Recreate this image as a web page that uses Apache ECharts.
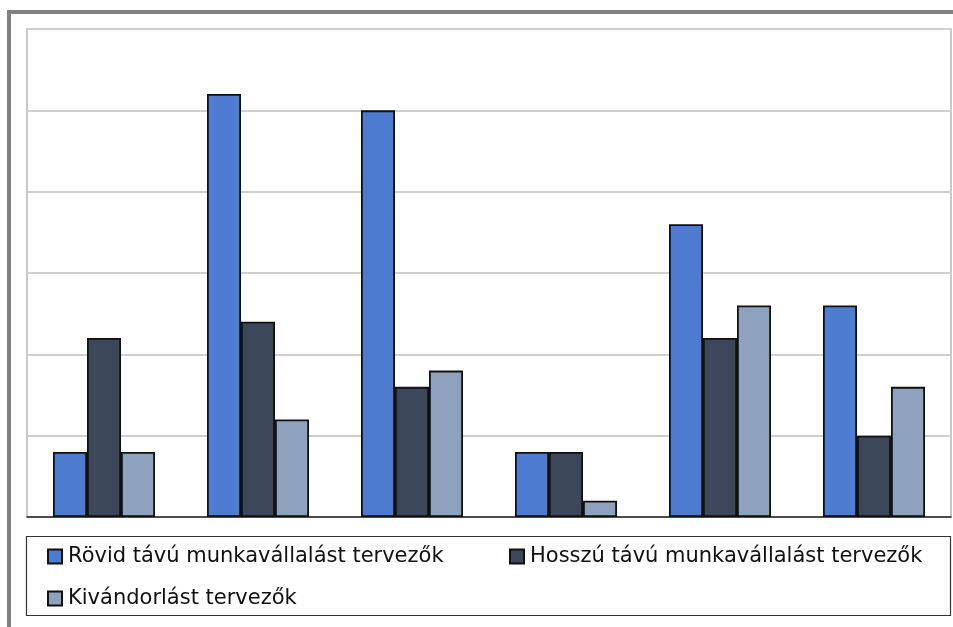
<!DOCTYPE html>
<html>
<head>
<meta charset="utf-8">
<script src="https://cdn.jsdelivr.net/npm/echarts@6/dist/echarts.min.js"></script>
<style>html,body{margin:0;padding:0;background:#fff}#c{width:953px;height:627px}</style>
</head>
<body>
<div id="c"></div>
<script>
const categories = ['1', '2', '3', '4', '5', '6'];
const seriesNames = ['Rövid távú munkavállalást tervezők', 'Hosszú távú munkavállalást tervezők', 'Kivándorlást tervezők'];
const rovid = [0.8, 5.2, 5.0, 0.8, 3.6, 2.6];
const hosszu = [2.2, 2.4, 1.6, 0.8, 2.2, 1.0];
const kivandorlas = [0.8, 1.2, 1.8, 0.2, 2.6, 1.6];
const colors = ['#4c7bcf', '#3c4759', '#8fa2bd'];

const chart = echarts.init(document.getElementById('c'), null, {renderer: 'canvas'});
const dataSets = [rovid, hosszu, kivandorlas];
const font = 'DejaVu Sans';
const legendPos = [{left: 47, top: 546}, {left: 509, top: 546}, {left: 47, top: 588}];

chart.setOption({
  animation: false,
  backgroundColor: '#fff',
  grid: {left: 27, right: 2, top: 29, bottom: 110, show: true, borderColor: '#b8b8b8', borderWidth: 1.5},
  xAxis: {
    type: 'category', data: categories,
    axisLine: {lineStyle: {color: '#222', width: 1.5}},
    axisTick: {show: false}, axisLabel: {show: false}
  },
  yAxis: {
    type: 'value', min: 0, max: 6, interval: 1,
    axisLine: {show: false}, axisTick: {show: false}, axisLabel: {show: false},
    splitLine: {lineStyle: {color: '#cfcfcf', width: 2}}
  },
  legend: seriesNames.map((n, i) => ({
    data: [n], left: legendPos[i].left, top: legendPos[i].top,
    itemWidth: 14, itemHeight: 14, itemGap: 0, icon: 'rect',
    textStyle: {fontFamily: font, fontSize: 21, color: '#111', padding: [0, 0, 0, 1]},
    padding: 0
  })),
  series: seriesNames.map((n, i) => ({
    name: n, type: 'bar', data: dataSets[i],
    barWidth: 34, barGap: '0%',
    itemStyle: {color: colors[i], borderColor: '#111', borderWidth: 1.8}
  })),
  graphic: [
    {type: 'line', shape: {x1: 9, y1: 12, x2: 953, y2: 12}, style: {stroke: '#808080', lineWidth: 4}, z: 10},
    {type: 'line', shape: {x1: 9, y1: 10, x2: 9, y2: 627}, style: {stroke: '#808080', lineWidth: 4}, z: 10},
    {type: 'rect', shape: {x: 26.5, y: 536.5, width: 924, height: 79}, style: {fill: 'none', stroke: '#333', lineWidth: 1.2}, z: 10}
  ]
});
</script>
</body>
</html>
